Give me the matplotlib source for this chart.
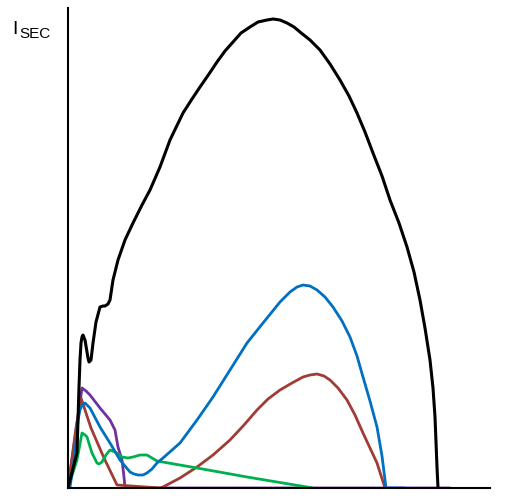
import matplotlib.pyplot as plt

# Valores (x: tiempo, y: corriente secundaria), unidades arbitrarias
negro_x = [0, 9, 11, 12, 13, 14, 15, 17, 20, 21, 23, 25, 28, 32, 35, 37, 40, 42, 45, 50,
           57, 65, 74, 82, 92, 102, 115, 124, 132, 141, 149, 157, 165, 173, 182, 190,
           199, 205, 212, 219, 226, 232, 242, 252, 262, 272, 281, 289, 297, 305, 314,
           322, 331, 339, 346, 352, 357, 362, 365, 367, 368, 369, 370]
negro_y = [0, 35, 101, 128, 145, 151, 153, 148, 130, 126, 128, 145, 166, 181, 182, 182,
           184, 188, 208, 228, 248, 265, 283, 298, 321, 348, 375, 389, 401, 414, 426,
           437, 446, 455, 461, 466, 468, 469, 468, 465, 461, 456, 448, 438, 424, 408,
           392, 375, 356, 335, 312, 288, 265, 241, 216, 188, 160, 128, 100, 71, 46,
           21, 0]

azul_x = [0, 2, 7, 10, 12, 14, 17, 22, 32, 42, 52, 62, 66, 70, 75, 79, 84, 89, 95, 112,
          129, 145, 162, 179, 195, 212, 222, 229, 235, 242, 249, 257, 265, 274, 282,
          289, 295, 302, 309, 314, 318, 337]
azul_y = [0, 1, 35, 68, 78, 83, 85, 80, 61, 45, 28, 16, 14, 13, 13, 15, 19, 25, 30, 45,
          68, 91, 118, 145, 165, 186, 196, 201, 203, 202, 198, 191, 181, 167, 151, 132,
          111, 87, 61, 32, 0, 0]

rojo_x = [0, 8, 13, 23, 36, 49, 92, 95, 112, 129, 145, 162, 176, 189, 200, 212, 224,
          235, 242, 249, 256, 262, 270, 279, 287, 295, 302, 309, 317]
rojo_y = [0, 60, 90, 60, 30, 3, 0, 1, 10, 21, 33, 48, 63, 78, 89, 98, 105, 111, 113,
          114, 112, 108, 100, 88, 73, 55, 40, 25, 0]

morado_x = [0, 14, 18, 22, 32, 42, 47, 50, 54, 56, 57, 382]
morado_y = [0, 100, 97, 93, 80, 68, 58, 41, 28, 11, 0, 0]

verde_x = [0, 9, 14, 17, 19, 24, 29, 31, 34, 38, 42, 47, 54, 60, 65, 72, 79, 84, 89,
           129, 179, 245]
verde_y = [0, 28, 55, 53, 51, 35, 25, 24, 26, 33, 38, 36, 31, 30, 31, 33, 33, 30, 27,
           20, 11, 0]

fig = plt.figure(figsize=(5.19, 5.04), dpi=100)
ax = fig.add_axes([68 / 519, 16 / 504, 422 / 519, 480 / 504])

ancho = 2.0
estilo = dict(solid_joinstyle='round', solid_capstyle='round')
ax.plot(morado_x, morado_y, color='#7030A0', lw=ancho, **estilo)
ax.plot(rojo_x, rojo_y, color='#A03C35', lw=ancho, **estilo)
ax.plot(verde_x, verde_y, color='#00B050', lw=ancho, **estilo)
ax.plot(azul_x, azul_y, color='#0070C0', lw=ancho, **estilo)
ax.plot(negro_x, negro_y, color='black', lw=2.2, **estilo)

ax.set_xlim(0, 422)
ax.set_ylim(0, 480)

# Solo los ejes izquierdo e inferior, sin marcas
for lado in ['top', 'right']:
    ax.spines[lado].set_visible(False)
for lado in ['left', 'bottom']:
    ax.spines[lado].set_linewidth(1.5)
ax.set_xticks([])
ax.set_yticks([])

# Etiqueta del eje Y
fig.text(12 / 519, 1 - 34 / 504, 'I', fontsize=14, family='Liberation Sans')
fig.text(19 / 519, 1 - 38 / 504, 'SEC', fontsize=11, family='Liberation Sans')

fig.savefig('out.png', dpi=100)
